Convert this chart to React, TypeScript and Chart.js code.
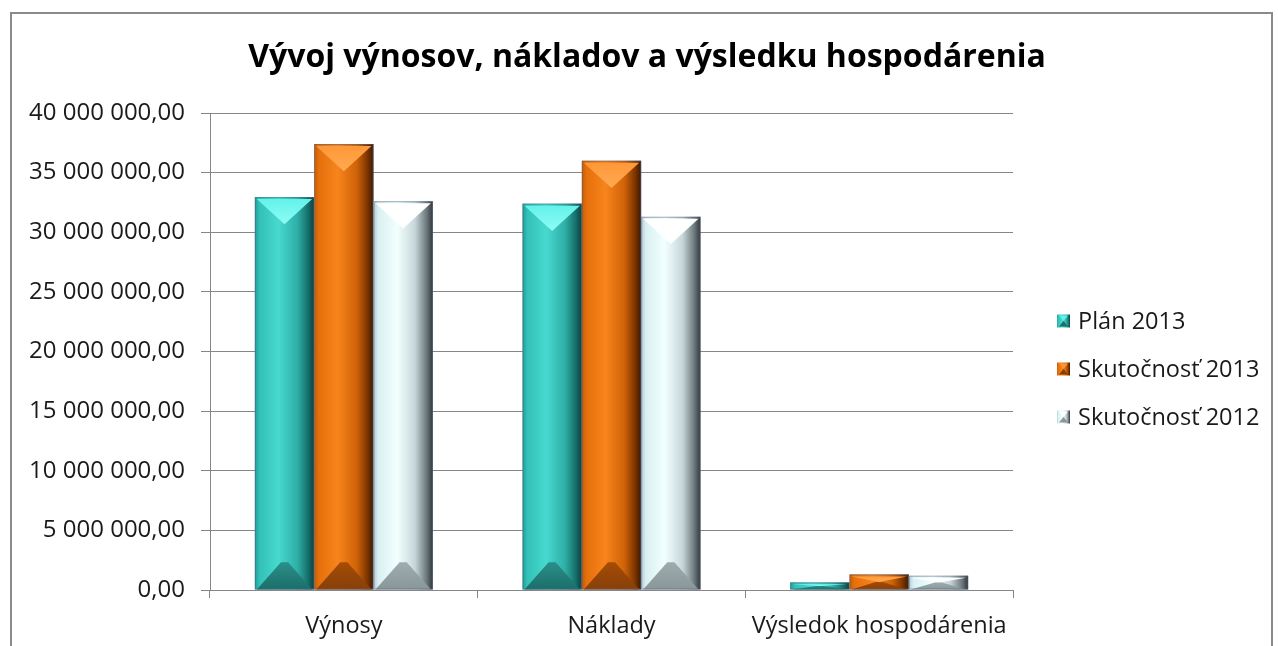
import React, { useEffect, useRef } from "react";
import { Chart, registerables } from "chart.js";

Chart.register(...registerables);

const categories = ["Výnosy", "Náklady", "Výsledok hospodárenia"];
const seriesLabels = ["Plán 2013", "Skutočnosť 2013", "Skutočnosť 2012"];
const plan2013 = [32950000, 32400000, 640000];
const skut2013 = [37400000, 36000000, 1310000];
const skut2012 = [32600000, 31300000, 1200000];
const chartTitle = "Vývoj výnosov, nákladov a výsledku hospodárenia";

const FONT = "'Open Sans', 'DejaVu Sans', sans-serif";

type Pal = { body: [number, string][]; top: [string, string]; bottom: [string, string] };
const palettes: Pal[] = [
  {
    body: [[0, "#1f9d96"], [0.08, "#33c0b7"], [0.4, "#47d9cf"], [0.72, "#2eaea6"], [0.9, "#166e69"], [1, "#0b3f3c"]],
    top: ["#5ff2ea", "#8ffbf5"],
    bottom: ["#2a8f89", "#1c6e69"],
  },
  {
    body: [[0, "#c85a00"], [0.08, "#e6700c"], [0.4, "#f7841c"], [0.72, "#cf6208"], [0.9, "#7a3400"], [1, "#3a1800"]],
    top: ["#ff9636", "#ffaa50"],
    bottom: ["#a64c04", "#86400a"],
  },
  {
    body: [[0, "#b5cbce"], [0.08, "#d9f0f2"], [0.4, "#f2ffff"], [0.7, "#c6d6d8"], [0.9, "#6a7679"], [1, "#2f3638"]],
    top: ["#ffffff", "#ffffff"],
    bottom: ["#9eacae", "#8a9799"],
  },
];

const fmt = (v: number) =>
  Math.round(v).toString().replace(/\B(?=(\d{3})+(?!\d))/g, " ") + ",00";

const bevelPlugin = {
  id: "bevelBars",
  afterDatasetsDraw(chart: any) {
    const ctx: CanvasRenderingContext2D = chart.ctx;
    chart.data.datasets.forEach((_ds: any, di: number) => {
      const meta = chart.getDatasetMeta(di);
      const pal = palettes[di];
      meta.data.forEach((el: any) => {
        const { x, y, base, width } = el.getProps(["x", "y", "base", "width"], true);
        const l = x - width / 2;
        const r = x + width / 2;
        const t = Math.min(y, base);
        const b = Math.max(y, base);
        const h = b - t;
        if (h <= 0) return;
        ctx.save();
        const g = ctx.createLinearGradient(l, 0, r, 0);
        pal.body.forEach(([s, c]) => g.addColorStop(s, c));
        ctx.fillStyle = g;
        ctx.fillRect(l, t, width, h);
        const d = Math.min(width * 0.46, h / 2);
        const gt = ctx.createLinearGradient(0, t, 0, t + d);
        gt.addColorStop(0, pal.top[0]);
        gt.addColorStop(1, pal.top[1]);
        ctx.fillStyle = gt;
        ctx.beginPath();
        ctx.moveTo(l + 2, t + 2);
        ctx.lineTo(r - 2, t + 2);
        ctx.lineTo(x, t + d);
        ctx.closePath();
        ctx.fill();
        const gb = ctx.createLinearGradient(0, b - d, 0, b);
        gb.addColorStop(0, pal.bottom[0]);
        gb.addColorStop(1, pal.bottom[1]);
        ctx.fillStyle = gb;
        ctx.beginPath();
        ctx.moveTo(l + 2, b);
        ctx.lineTo(r - 2, b);
        ctx.lineTo(x + width * 0.06, b - d);
        ctx.lineTo(x - width * 0.06, b - d);
        ctx.closePath();
        ctx.fill();
        ctx.strokeStyle = "rgba(80,100,135,0.55)";
        ctx.lineWidth = 1;
        ctx.strokeRect(l + 0.5, t + 0.5, width - 1, h - 1);
        ctx.restore();
      });
    });
  },
};

const decorPlugin = {
  id: "titleLegend",
  afterDraw(chart: any) {
    const ctx: CanvasRenderingContext2D = chart.ctx;
    ctx.save();
    ctx.fillStyle = "#000";
    ctx.font = `bold 32px ${FONT}`;
    ctx.textAlign = "center";
    ctx.textBaseline = "middle";
    ctx.fillText(chartTitle, 647, 58);
    const x0 = 1057;
    const y0 = 321;
    const step = 48;
    chart.data.datasets.forEach((ds: any, i: number) => {
      const cy = y0 + i * step;
      const pal = palettes[i];
      const s = 13;
      const l = x0, t = cy - s / 2;
      const g = ctx.createLinearGradient(l, 0, l + s, 0);
      pal.body.forEach(([st, c]) => g.addColorStop(st, c));
      ctx.fillStyle = g;
      ctx.fillRect(l, t, s, s);
      ctx.fillStyle = pal.top[0];
      ctx.beginPath();
      ctx.moveTo(l + 2, t + 1);
      ctx.lineTo(l + s - 2, t + 1);
      ctx.lineTo(l + s / 2, t + s / 2);
      ctx.closePath();
      ctx.fill();
      ctx.fillStyle = pal.bottom[1];
      ctx.beginPath();
      ctx.moveTo(l + 2, t + s - 1);
      ctx.lineTo(l + s - 2, t + s - 1);
      ctx.lineTo(l + s / 2, t + s / 2);
      ctx.closePath();
      ctx.fill();
      ctx.fillStyle = "#1a1a1a";
      ctx.font = `23.5px ${FONT}`;
      ctx.textBaseline = "middle";
      ctx.textAlign = "left";
      ctx.fillText(ds.label, x0 + 21, cy + 1);
    });
    ctx.restore();
  },
};

export default function App() {
  const ref = useRef<HTMLCanvasElement | null>(null);
  useEffect(() => {
    if (!ref.current) return;
    const chart = new Chart(ref.current, {
      type: "bar",
      data: {
        labels: categories,
        datasets: [
          { label: seriesLabels[0], data: plan2013, backgroundColor: "rgba(0,0,0,0)" },
          { label: seriesLabels[1], data: skut2013, backgroundColor: "rgba(0,0,0,0)" },
          { label: seriesLabels[2], data: skut2012, backgroundColor: "rgba(0,0,0,0)" },
        ],
      },
      options: {
        animation: false,
        responsive: false,
        maintainAspectRatio: false,
        datasets: { bar: { categoryPercentage: 0.665, barPercentage: 1 } },
        layout: { padding: { left: 0, right: 265, top: 113, bottom: 0 } },
        plugins: {
          legend: { display: false },
          tooltip: { enabled: false },
          title: { display: false },
        },
        scales: {
          x: {
            afterFit: (scale: any) => {
              scale.height = 56;
            },
            grid: {
              offset: true,
              drawOnChartArea: false,
              drawTicks: true,
              tickLength: 8,
              color: "#868686",
            },
            border: { display: true, color: "#868686", width: 1 },
            ticks: { color: "#1a1a1a", padding: 14, font: { family: FONT, size: 23.5 } },
          },
          y: {
            min: 0,
            max: 40000000,
            afterFit: (scale: any) => {
              scale.width = 210;
            },
            grid: { color: "#868686", tickLength: 9, drawTicks: true },
            border: { display: true, color: "#868686", width: 1 },
            ticks: {
              stepSize: 5000000,
              color: "#1a1a1a",
              padding: 16,
              font: { family: FONT, size: 24 },
              callback: (v: any) => fmt(Number(v)),
            },
          },
        },
      },
      plugins: [bevelPlugin, decorPlugin],
    });
    return () => chart.destroy();
  }, []);

  return (
    <div style={{ position: "fixed", left: 0, top: 0, width: 1278, height: 646, background: "#fff", overflow: "hidden" }}>
      <div
        style={{
          position: "absolute",
          left: 10,
          top: 12,
          width: 1263,
          height: 700,
          border: "2px solid #8a8a8a",
          boxSizing: "border-box",
        }}
      />
      <canvas ref={ref} width={1278} height={646} style={{ position: "absolute", left: 0, top: 0 }} />
    </div>
  );
}
